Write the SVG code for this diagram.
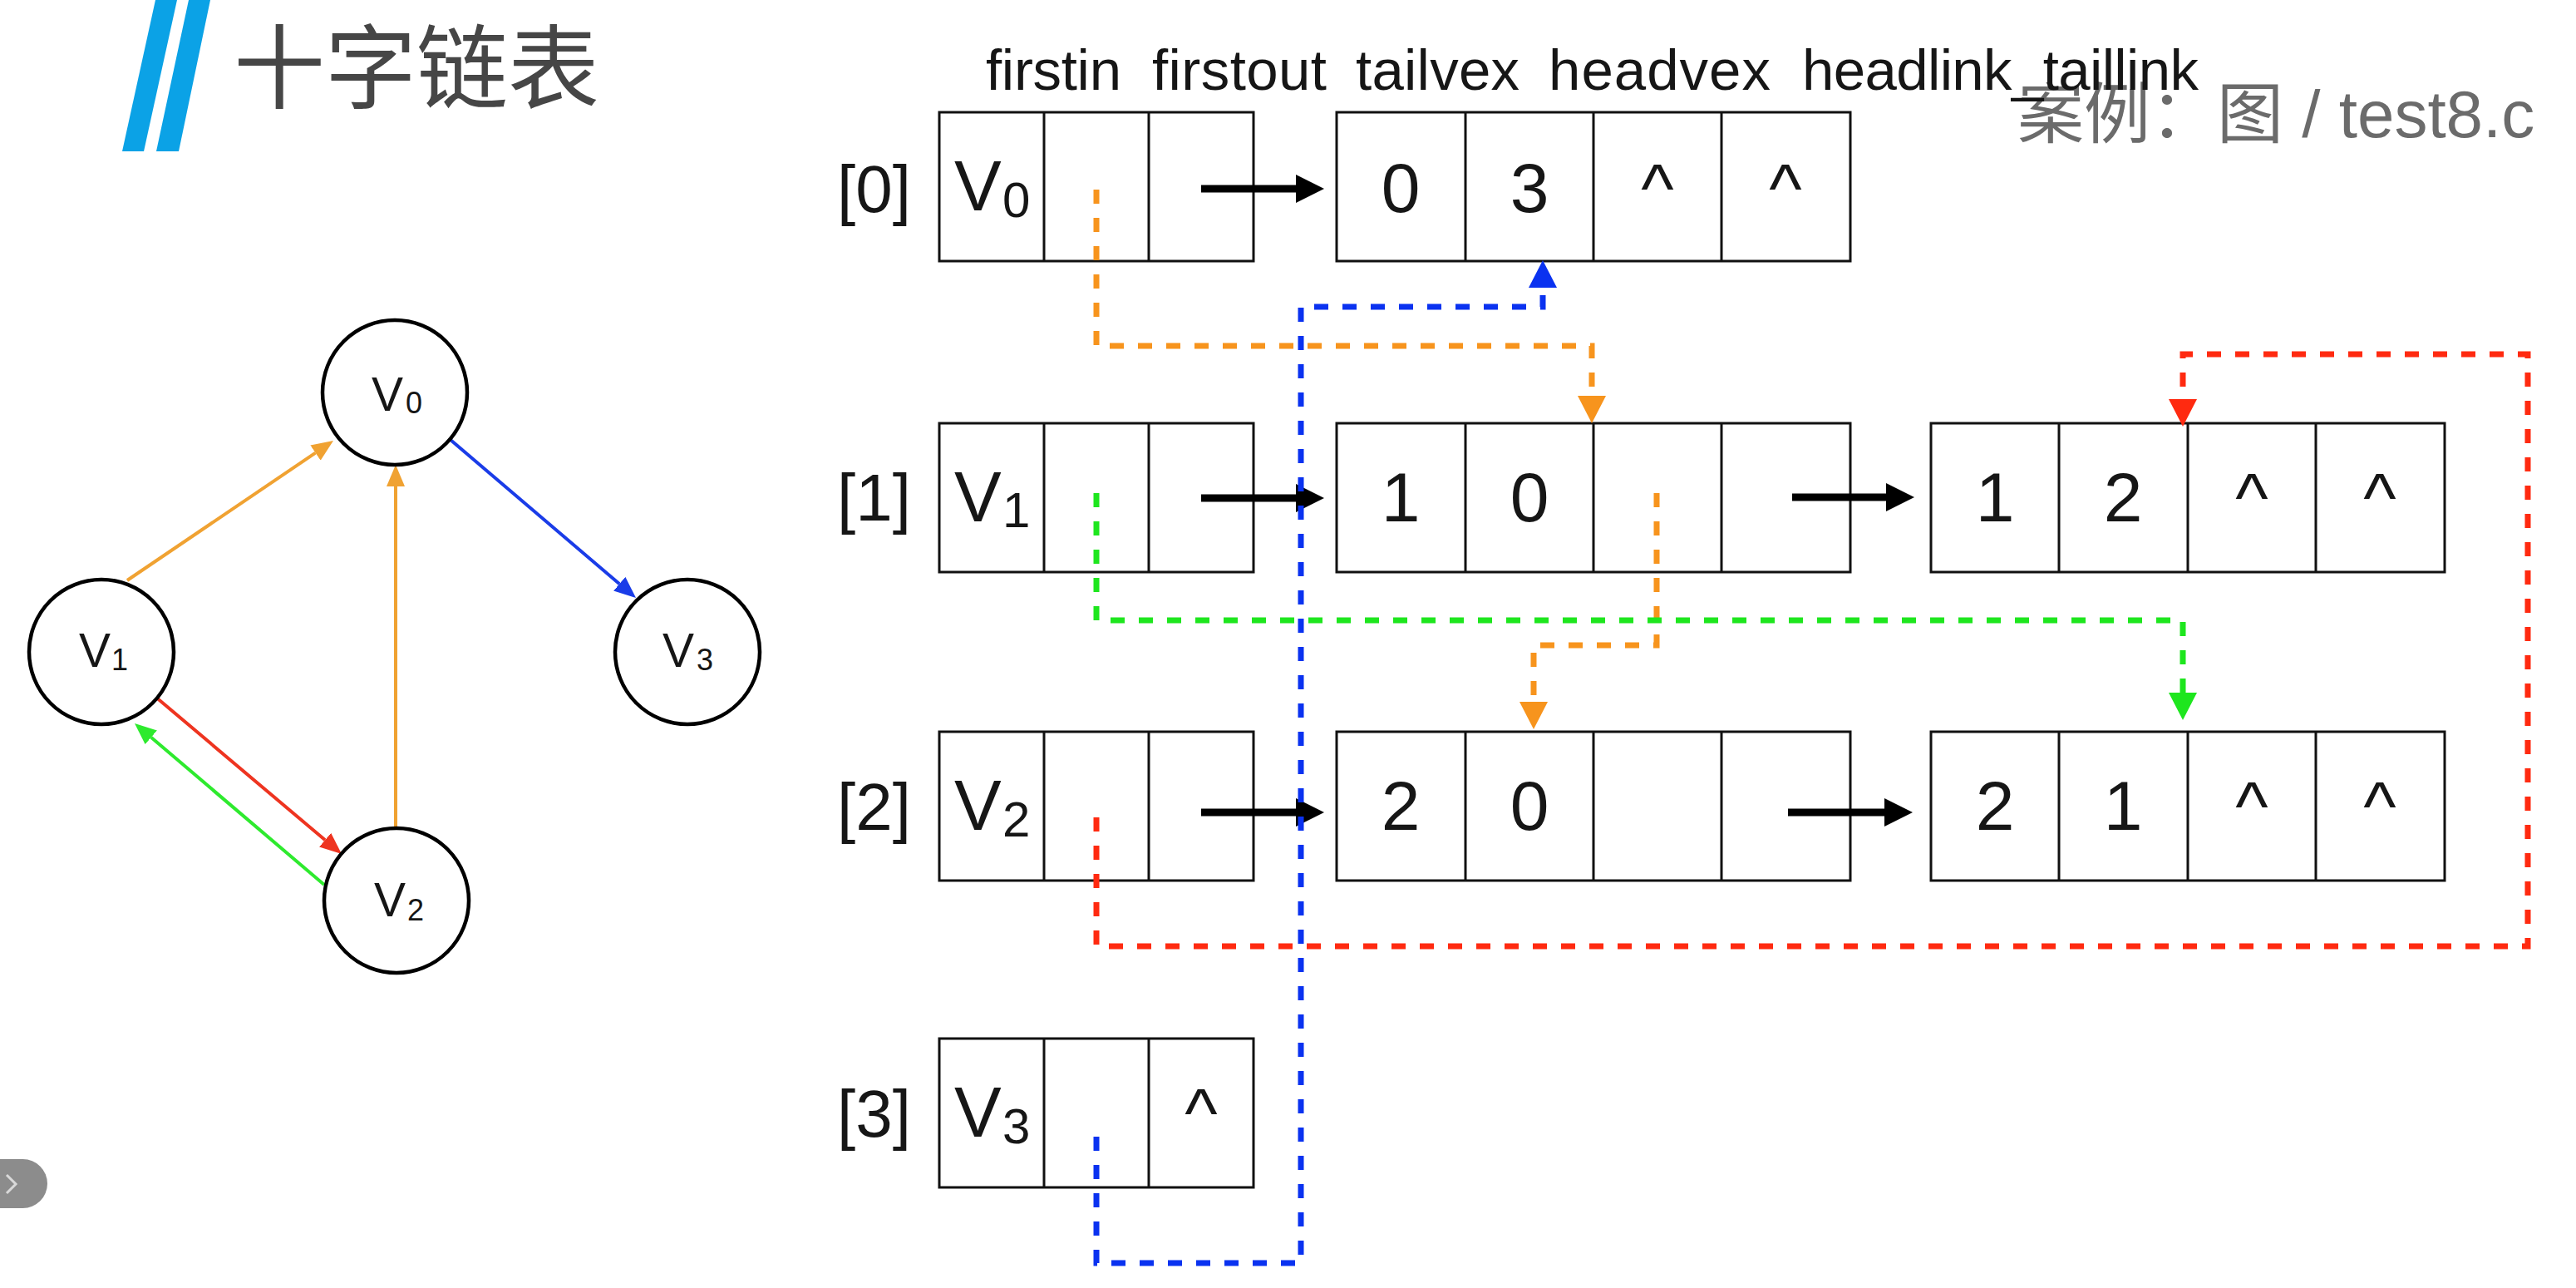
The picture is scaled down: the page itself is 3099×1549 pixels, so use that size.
<svg xmlns="http://www.w3.org/2000/svg" width="3099" height="1549" viewBox="0 0 3099 1549">
<style>
  .bg{fill:#ffffff}
  .box{fill:#ffffff;stroke:#111111;stroke-width:3}
  .div{stroke:#111111;stroke-width:3}
  .t{font-family:"Liberation Sans",Arial,sans-serif;fill:#161616}
  .idx{font-size:80px}
  .num{font-size:84px;text-anchor:middle}
  .vb{font-size:85px}
  .vs{font-size:60px}
  .hdr{font-size:69px}
  .gc{fill:#ffffff;stroke:#000000;stroke-width:4.5}
  .gv{font-size:57px}
  .gs{font-size:36px}
  .ge{fill:none;stroke-width:4}
  .blk{fill:none;stroke:#000000;stroke-width:9}
  .dash{fill:none;stroke-width:7;stroke-dasharray:17 17}
</style>
<defs>
  <marker id="g-or" markerUnits="userSpaceOnUse" viewBox="0 0 26 22" markerWidth="26" markerHeight="22" refX="0" refY="11" orient="auto"><path d="M0,0 L26,11 L0,22 z" fill="#F0A232"/></marker>
  <marker id="g-bl" markerUnits="userSpaceOnUse" viewBox="0 0 26 22" markerWidth="26" markerHeight="22" refX="0" refY="11" orient="auto"><path d="M0,0 L26,11 L0,22 z" fill="#1A3CE8"/></marker>
  <marker id="g-rd" markerUnits="userSpaceOnUse" viewBox="0 0 26 22" markerWidth="26" markerHeight="22" refX="0" refY="11" orient="auto"><path d="M0,0 L26,11 L0,22 z" fill="#EE3420"/></marker>
  <marker id="g-gr" markerUnits="userSpaceOnUse" viewBox="0 0 26 22" markerWidth="26" markerHeight="22" refX="0" refY="11" orient="auto"><path d="M0,0 L26,11 L0,22 z" fill="#2EEA2E"/></marker>
  <marker id="m-blk" markerUnits="userSpaceOnUse" viewBox="0 0 34 34" markerWidth="34" markerHeight="34" refX="0" refY="17" orient="auto"><path d="M0,0 L34,17 L0,34 z" fill="#000000"/></marker>
  <marker id="d-or" markerUnits="userSpaceOnUse" viewBox="0 0 33 34" markerWidth="33" markerHeight="34" refX="0" refY="17" orient="auto"><path d="M0,0 L33,17 L0,34 z" fill="#F7941D"/></marker>
  <marker id="d-bl" markerUnits="userSpaceOnUse" viewBox="0 0 33 34" markerWidth="33" markerHeight="34" refX="0" refY="17" orient="auto"><path d="M0,0 L33,17 L0,34 z" fill="#0A32F0"/></marker>
  <marker id="d-rd" markerUnits="userSpaceOnUse" viewBox="0 0 33 34" markerWidth="33" markerHeight="34" refX="0" refY="17" orient="auto"><path d="M0,0 L33,17 L0,34 z" fill="#FF2A10"/></marker>
  <marker id="d-gr" markerUnits="userSpaceOnUse" viewBox="0 0 33 34" markerWidth="33" markerHeight="34" refX="0" refY="17" orient="auto"><path d="M0,0 L33,17 L0,34 z" fill="#1EE61E"/></marker>
</defs>
<rect class="bg" x="0" y="0" width="3099" height="1549"/>

<g id="title">
  <polygon points="187,0 213,0 173,182 147,182" fill="#0BA2E6"/>
  <polygon points="227,0 253,0 215,182 188,182" fill="#0BA2E6"/>
  <text x="281" y="122" font-family="'Noto Sans CJK SC',sans-serif" font-size="110" fill="#464646">十字链表</text>
</g>
<text id="watermark" x="2427" y="165" font-family="'Liberation Sans','Noto Sans CJK SC',sans-serif" font-size="80" fill="#6b6b6b">案例：图 / test8.c</text>

<g id="headers" class="t hdr">
  <text x="1186" y="108" textLength="163">firstin</text>
  <text x="1386" y="108" textLength="210">firstout</text>
  <text x="1631" y="108" textLength="197">tailvex</text>
  <text x="1863" y="108" textLength="267">headvex</text>
  <text x="2168" y="108" textLength="477">headlink_taillink</text>
</g>

<!-- graph -->
<g id="graph-edges">
  <path class="ge" stroke="#F0A232" d="M153,698 L379.5,544.6" marker-end="url(#g-or)"/>
  <path class="ge" stroke="#F0A232" d="M476,1010 L476,585" marker-end="url(#g-or)"/>
  <path class="ge" stroke="#1A3CE8" d="M542,529 L745.2,702.2" marker-end="url(#g-bl)"/>
  <path class="ge" stroke="#EE3420" d="M187,838 L391.1,1010.2" marker-end="url(#g-rd)"/>
  <path class="ge" stroke="#2EEA2E" d="M390,1064 L181.8,886.8" marker-end="url(#g-gr)"/>
</g>
<g id="gV0"><circle class="gc" cx="475" cy="472" r="87"/><text class="t gv" x="447" y="494">V</text><text class="t gs" x="488" y="497">0</text></g>
<g id="gV1"><circle class="gc" cx="122" cy="784" r="87"/><text class="t gv" x="95" y="802">V</text><text class="t gs" x="134" y="806">1</text></g>
<g id="gV2"><circle class="gc" cx="477" cy="1083" r="87"/><text class="t gv" x="450" y="1102">V</text><text class="t gs" x="490" y="1107">2</text></g>
<g id="gV3"><circle class="gc" cx="827" cy="784" r="87"/><text class="t gv" x="797" y="802">V</text><text class="t gs" x="838" y="806">3</text></g>

<!-- table: vertex row 0 -->
<g id="vtx0">
  <text class="t idx" x="1007" y="255">[0]</text>
  <rect class="box" x="1130" y="135" width="378" height="179"/>
  <line class="div" x1="1256" y1="135" x2="1256" y2="314"/><line class="div" x1="1382" y1="135" x2="1382" y2="314"/>
  <text class="t vb" x="1148" y="253">V</text><text class="t vs" x="1206" y="261">0</text>
</g>
<g id="arc-0-3">
  <rect class="box" x="1608" y="135" width="618" height="179"/>
  <line class="div" x1="1763" y1="135" x2="1763" y2="314"/><line class="div" x1="1917" y1="135" x2="1917" y2="314"/><line class="div" x1="2071" y1="135" x2="2071" y2="314"/>
  <text class="t num" x="1685" y="255">0</text><text class="t num" x="1840" y="255">3</text><text class="t num" x="1994" y="255">^</text><text class="t num" x="2148" y="255">^</text>
</g>

<!-- row 1 -->
<g id="vtx1">
  <text class="t idx" x="1007" y="626">[1]</text>
  <rect class="box" x="1130" y="509" width="378" height="179"/>
  <line class="div" x1="1256" y1="509" x2="1256" y2="688"/><line class="div" x1="1382" y1="509" x2="1382" y2="688"/>
  <text class="t vb" x="1148" y="627">V</text><text class="t vs" x="1206" y="634">1</text>
</g>
<g id="arc-1-0">
  <rect class="box" x="1608" y="509" width="618" height="179"/>
  <line class="div" x1="1763" y1="509" x2="1763" y2="688"/><line class="div" x1="1917" y1="509" x2="1917" y2="688"/><line class="div" x1="2071" y1="509" x2="2071" y2="688"/>
  <text class="t num" x="1685" y="627">1</text><text class="t num" x="1840" y="627">0</text>
</g>
<g id="arc-1-2">
  <rect class="box" x="2323" y="509" width="618" height="179"/>
  <line class="div" x1="2477" y1="509" x2="2477" y2="688"/><line class="div" x1="2632" y1="509" x2="2632" y2="688"/><line class="div" x1="2786" y1="509" x2="2786" y2="688"/>
  <text class="t num" x="2400" y="627">1</text><text class="t num" x="2554" y="627">2</text><text class="t num" x="2709" y="627">^</text><text class="t num" x="2863" y="627">^</text>
</g>

<!-- row 2 -->
<g id="vtx2">
  <text class="t idx" x="1007" y="998">[2]</text>
  <rect class="box" x="1130" y="880" width="378" height="179"/>
  <line class="div" x1="1256" y1="880" x2="1256" y2="1059"/><line class="div" x1="1382" y1="880" x2="1382" y2="1059"/>
  <text class="t vb" x="1148" y="998">V</text><text class="t vs" x="1206" y="1006">2</text>
</g>
<g id="arc-2-0">
  <rect class="box" x="1608" y="880" width="618" height="179"/>
  <line class="div" x1="1763" y1="880" x2="1763" y2="1059"/><line class="div" x1="1917" y1="880" x2="1917" y2="1059"/><line class="div" x1="2071" y1="880" x2="2071" y2="1059"/>
  <text class="t num" x="1685" y="998">2</text><text class="t num" x="1840" y="998">0</text>
</g>
<g id="arc-2-1">
  <rect class="box" x="2323" y="880" width="618" height="179"/>
  <line class="div" x1="2477" y1="880" x2="2477" y2="1059"/><line class="div" x1="2632" y1="880" x2="2632" y2="1059"/><line class="div" x1="2786" y1="880" x2="2786" y2="1059"/>
  <text class="t num" x="2400" y="998">2</text><text class="t num" x="2554" y="998">1</text><text class="t num" x="2709" y="998">^</text><text class="t num" x="2863" y="998">^</text>
</g>

<!-- row 3 -->
<g id="vtx3">
  <text class="t idx" x="1007" y="1367">[3]</text>
  <rect class="box" x="1130" y="1249" width="378" height="179"/>
  <line class="div" x1="1256" y1="1249" x2="1256" y2="1428"/><line class="div" x1="1382" y1="1249" x2="1382" y2="1428"/>
  <text class="t vb" x="1148" y="1367">V</text><text class="t vs" x="1206" y="1375">3</text>
  <text class="t num" x="1445" y="1367">^</text>
</g>

<g id="connectors">
  <path class="blk" d="M1445,227 H1559" marker-end="url(#m-blk)"/>
  <path class="blk" d="M1445,599 H1559" marker-end="url(#m-blk)"/>
  <path class="blk" d="M2156,598 H2269" marker-end="url(#m-blk)"/>
  <path class="blk" d="M1445,977 H1559" marker-end="url(#m-blk)"/>
  <path class="blk" d="M2151,977 H2267" marker-end="url(#m-blk)"/>

  <path class="dash" stroke="#F7941D" d="M1319,228 V416 H1915 V476" marker-end="url(#d-or)"/>
  <path class="dash" stroke="#F7941D" d="M1993,593 V776 H1845 V844" marker-end="url(#d-or)"/>
  <path class="dash" stroke="#1EE61E" d="M1319,593 V746 H2626 V833" marker-end="url(#d-gr)"/>
  <path class="dash" stroke="#FF2A10" d="M1319,983 V1138 H3041 V426 H2626 V480" marker-end="url(#d-rd)"/>
  <path class="dash" stroke="#0A32F0" d="M1319,1367 V1519 H1565 V369 H1856 V346" marker-end="url(#d-bl)"/>
</g>

<g id="player-button">
  <rect x="-40" y="1394" width="97" height="59" rx="29.5" fill="#8c8c8c"/>
  <polyline points="8,1413 19,1424 8,1435" fill="none" stroke="#d9d9d9" stroke-width="3"/>
</g>
</svg>
